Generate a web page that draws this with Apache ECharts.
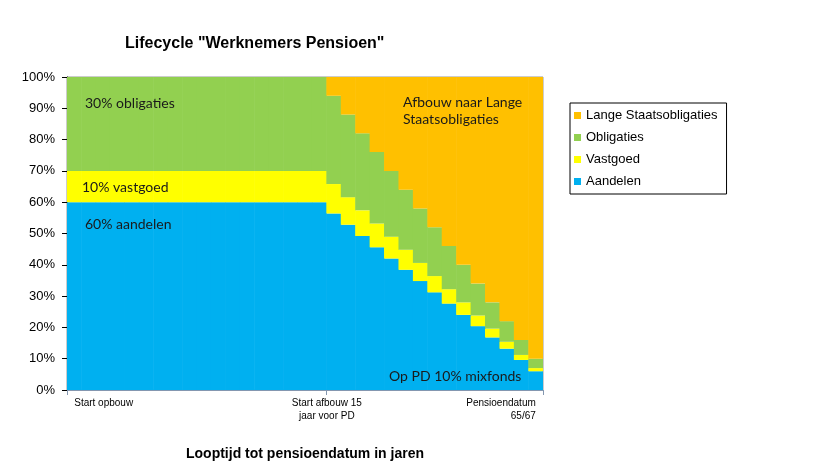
<!DOCTYPE html>
<html><head><meta charset="utf-8">
<script src="https://cdn.jsdelivr.net/npm/echarts@6/dist/echarts.min.js"></script>
<style>html,body{margin:0;padding:0;background:#fff}#c{width:819px;height:472px}</style>
</head><body><div id="c"></div>
<script>
// 33 yearly columns: 18 flat build-up years, then 15 years of de-risking
const categories = [
  'Start opbouw','','','','','','','','','','','','','','','','','',
  'Start afbouw 15\njaar voor PD','','','','','','','','','','','','','','Pensioendatum\n65/67'
];
const aandelen = [60,60,60,60,60,60,60,60,60,60,60,60,60,60,60,60,60,60,
  56.4,52.8,49.2,45.6,42,38.4,34.8,31.2,27.6,24,20.4,16.8,13.2,9.6,6];
const vastgoed = [10,10,10,10,10,10,10,10,10,10,10,10,10,10,10,10,10,10,
  9.4,8.8,8.2,7.6,7,6.4,5.8,5.2,4.6,4,3.4,2.8,2.2,1.6,1];
const obligaties = [30,30,30,30,30,30,30,30,30,30,30,30,30,30,30,30,30,30,
  28.2,26.4,24.6,22.8,21,19.2,17.4,15.6,13.8,12,10.2,8.4,6.6,4.8,3];
const langeStaats = [0,0,0,0,0,0,0,0,0,0,0,0,0,0,0,0,0,0,
  6,12,18,24,30,36,42,48,54,60,66,72,78,84,90];
const yTicks = [0,10,20,30,40,50,60,70,80,90,100];
const seriesNames = ['Aandelen','Vastgoed','Obligaties','Lange Staatsobligaties'];
const colors = ['#00B0F0','#FFFF00','#92D050','#FFC000'];
const labeledIdx = [0,18,32];

const chart = echarts.init(document.getElementById('c'), null, {renderer:'canvas'});
const dataSets = [aandelen, vastgoed, obligaties, langeStaats];
const annFont = {fontFamily:'Lato, "Open Sans", sans-serif', fontSize:14, fill:'#1a1a1a'};
const ann = (text, left, top, extra) => ({type:'text', left, top, z:100, zlevel:1,
  style:Object.assign({text}, annFont, extra || {})});
chart.setOption({
  animation:false,
  backgroundColor:'#fff',
  title:{
    text:'Lifecycle "Werknemers Pensioen"',
    left:120, top:31,
    textStyle:{fontFamily:'"Liberation Sans", Arial, sans-serif', fontSize:16, fontWeight:'bold', color:'#000'}
  },
  legend:{
    data:['Lange Staatsobligaties','Obligaties','Vastgoed','Aandelen'],
    orient:'vertical', left:570, top:103,
    itemWidth:7, itemHeight:7, itemGap:9, icon:'rect',
    padding:[6,9,6,4],
    borderColor:'#000', borderWidth:1,
    textStyle:{fontFamily:'"Liberation Sans", Arial, sans-serif', fontSize:13, color:'#000', padding:[0,0,0,0]}
  },
  grid:{left:67, right:276, top:77, bottom:82, show:true, borderColor:'#999', borderWidth:1, backgroundColor:'transparent'},
  xAxis:{
    type:'category', data:categories,
    name:'Looptijd tot pensioendatum in jaren', nameLocation:'middle', nameGap:57,
    nameTextStyle:{fontFamily:'"Liberation Sans", Arial, sans-serif', fontSize:14, fontWeight:'bold', color:'#000'},
    splitLine:{show:false}, splitArea:{show:false},
    axisLine:{lineStyle:{color:'#8497B0', width:1}},
    axisTick:{show:true, length:5, interval:(i)=> i===0 || i===18, lineStyle:{color:'#8497B0'}},
    axisLabel:{
      interval:(i)=> labeledIdx.indexOf(i) >= 0,
      alignMinLabel:'left', alignMaxLabel:'right',
      fontFamily:'"Liberation Sans", Arial, sans-serif', fontSize:10, color:'#000', lineHeight:13, margin:7,
      formatter:(v,i)=> i===18 ? v.split('\n').map(s=>'{m|'+s+'}').join('\n') : v,
      rich:{m:{fontFamily:'"Liberation Sans", Arial, sans-serif', fontSize:10, color:'#000', lineHeight:13, padding:[0,14,0,0]}}
    }
  },
  yAxis:{
    type:'value', min:yTicks[0], max:yTicks[yTicks.length-1], interval:10,
    axisLine:{show:true, lineStyle:{color:'#000'}},
    axisTick:{show:true, length:5, lineStyle:{color:'#000'}},
    splitLine:{show:false},
    axisLabel:{formatter:'{value}%', fontFamily:'"Liberation Sans", Arial, sans-serif', fontSize:13, color:'#000', margin:12}
  },
  series: seriesNames.map((n,k)=>({
    name:n, type:'bar', stack:'total', data:dataSets[k],
    barWidth:15,
    itemStyle:{color:colors[k], borderWidth:0},
    emphasis:{disabled:true}, silent:true
  })),
  graphic:[
    ann('30% obligaties', 85, 96),
    ann('10% vastgoed', 82, 180),
    ann('60% aandelen', 85, 217),
    ann('Afbouw naar Lange\nStaatsobligaties', 403, 94, {lineHeight:17}),
    ann('Op PD 10% mixfonds', 389, 369)
  ]
});
</script></body></html>
